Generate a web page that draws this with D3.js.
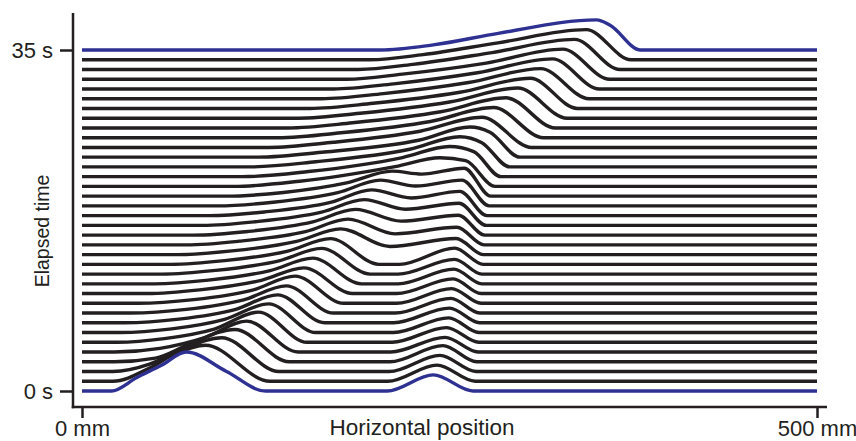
<!DOCTYPE html>
<html>
<head>
<meta charset="utf-8">
<script src="https://cdn.jsdelivr.net/npm/d3@7"></script>
<style>
  body { margin: 0; background: #fff; }
  text { font-family: "Liberation Sans", Arial, Helvetica, sans-serif; fill: #231f20; }
</style>
</head>
<body>
<div id="chart"></div>
<script>
// elapsed time of each trace, s
var times = [0,1,2,3,4,5,6,7,8,9,10,11,12,13,14,15,16,17,18,19,20,21,22,23,24,25,26,27,28,29,30,31,32,33,34,35];

// main wave, positions in mm along the tank, heights in mm of surface rise
var rampStart = [20,21,21,22,22,24,26,29,33,38,44,49,54,60,65,71,76,82,87,92,98,103,109,114,120,127,133,140,147,155,163,171,180,188,196,203];
var rearX1 = [37,46,46,50,53,56,61,66,71,76,80,86,91,97,102,107,113,118,124,130,137,148,154,159,165,171,178,184,191,198,205,212,218,225,232,239];
var rearH1 = [9,9,5,2.5,2.5,2.5,2.5,2.5,2.5,2.5,2.5,2.5,2.5,2.5,2.5,2.5,2.5,2.5,2.5,2.5,2.5,3.5,3.5,3.5,3.5,3.5,3.5,3.5,3.5,3.5,3.5,3.5,3.5,3.5,3.5,3.5];
var rearX2 = [54,63,67,73,84,90,97,104,110,116,122,128,134,140,146,152,157,163,169,174,180,213,218,223,229,230,237,244,250,257,263,269,275,279,283,284];
var rearH2 = [17.5,18.5,14.5,12,10,9,9,9,9,9,9,9,9,9,9,9,9,9,9,9,9,13.5,13,12,11.5,11,11,11,11,11,11,11,11,11.5,11.5,11.5];
var crestX = [71,84,95,104,112,120,127,133,139,145,151,157,163,169,176,181,186,192,197,203,211,243.5,250,257,264,272,280,288.5,296.5,305,312,320,327,335,343,350];
var crestH = [26.5,24.5,23,22,21,20.5,19.5,19,18.5,18.5,17.5,17.5,17.5,17.5,17.5,17.5,17.5,17.5,17.5,17.5,17,19.5,20.5,20.5,20.5,20.5,20.5,20.5,20.5,20.5,20.5,20.5,20.5,20.5,20.5,20.5];
var frontMidX = [98,null,null,null,null,null,null,null,null,null,null,null,null,null,null,null,null,null,null,null,null,261,266.5,272,277.5,null,null,null,null,null,null,null,null,null,null,359];
var frontMidH = [13.5,null,null,null,null,null,null,null,null,null,null,null,null,null,null,null,null,null,null,null,null,17.5,17,16.5,17,null,null,null,null,null,null,null,null,null,null,17];
var frontX = [125,128,134,141,147,153,159,165,171,178,184,190,196,202,209.5,213,217,220,224,227,231,281,285,291,298,306,314,322,330,337,345,352,359,366,373.5,380];
var frontH = [0,0,0,0,0,0,0,0,0,0,0,0,0,0,5.5,7.5,9.5,11,12,13.5,15,0,0,0,0,0,0,0,0,0,0,0,0,0,0,0];

// small wave, until it merges with the main one
var bumpStart = [207.5,208,209,209.5,210,211,212,212,213,214,214,215,215,216,null,null,null,null,null,null,null,null,null,null,null,null,null,null,null,null,null,null,null,null,null,null];
var bumpX = [239,241.5,243.5,245.5,247,248,249.5,250,251,251.5,252.5,253,253.5,253.5,254.5,255,256,256.5,257,258.5,260,null,null,null,null,null,null,null,null,null,null,null,null,null,null,null];
var bumpH = [11,11,11,11,10,10,10,10,10,10,10,10,10,11,11,12,13.5,15,16.5,17.5,19,null,null,null,null,null,null,null,null,null,null,null,null,null,null,null];
var bumpFoot = [266,267.5,268,268.5,269.5,270,270,270.5,270.5,271.5,271.5,272,272,273,273,273.5,274,275,275.5,277,278,null,null,null,null,null,null,null,null,null,null,null,null,null,null,null];

var timeTicks = [0, 35];
var posTicks = [0, 500];

var width = 856, height = 441;
var axisX = 73, axisY = 407;

var x = d3.scaleLinear().domain([0, 500]).range([82, 817]);
var y = d3.scaleLinear().domain([0, 35]).range([391, 50]);
var amp = function(h) { return x(h) - x(0); }; // surface rise drawn at the tank's mm scale

var ink = "#231f20", blue = "#2e3192";

function profile(i) {
  var pts = [[0, 0], [rampStart[i], 0], [rearX1[i], rearH1[i]], [rearX2[i], rearH2[i]], [crestX[i], crestH[i]]];
  if (frontMidX[i] != null) pts.push([frontMidX[i], frontMidH[i]]);
  pts.push([frontX[i], frontH[i]]);
  if (bumpStart[i] != null) pts.push([bumpStart[i], 0]);
  if (bumpX[i] != null) {
    pts.push([bumpX[i], bumpH[i]]);
    pts.push([bumpFoot[i], 0]);
  }
  pts.push([500, 0]);
  return pts.map(function(p) { return {pos: p[0], rise: p[1], t: times[i]}; });
}

var traces = times.map(function(t, i) { return {t: t, pts: profile(i)}; });

var svg = d3.select("#chart").append("svg")
  .attr("width", width)
  .attr("height", height);

svg.append("rect")
  .attr("width", width)
  .attr("height", height)
  .style("fill", "#fff");

var line = d3.line()
  .x(function(d) { return x(d.pos); })
  .y(function(d) { return y(d.t) - amp(d.rise); })
  .curve(d3.curveMonotoneX);

function isEnd(t) { return t == times[0] || t == times[times.length - 1]; }

// black traces first, first and last on top in blue
var ordered = traces.slice().sort(function(a, b) { return isEnd(a.t) - isEnd(b.t); });

svg.append("g").attr("class", "traces")
  .selectAll("path.trace")
  .data(ordered)
  .enter().append("path")
    .attr("class", "trace")
    .attr("d", function(d) { return line(d.pts); })
    .style("fill", "none")
    .style("stroke", function(d) { return isEnd(d.t) ? blue : ink; })
    .style("stroke-width", 3.4)
    .style("stroke-linejoin", "round");

// y axis
var yAxis = svg.append("g")
  .attr("transform", "translate(" + axisX + ",0)")
  .call(d3.axisLeft(y).tickValues(timeTicks).tickSize(13).tickPadding(7)
    .tickFormat(function(d) { return d + " s"; }));
yAxis.select(".domain").remove();
yAxis.selectAll(".tick line").style("stroke", ink).style("stroke-width", 2.5);
yAxis.selectAll(".tick text").style("font-size", "22px").style("fill", ink)
  .attr("font-family", null);
yAxis.append("line")
  .attr("x1", 0).attr("x2", 0)
  .attr("y1", 13).attr("y2", axisY + 1.25)
  .style("stroke", ink).style("stroke-width", 2.5);

// x axis
var xAxis = svg.append("g")
  .attr("transform", "translate(0," + axisY + ")")
  .call(d3.axisBottom(x).tickValues(posTicks).tickSize(11).tickPadding(2)
    .tickFormat(function(d) { return d + " mm"; }));
xAxis.select(".domain").remove();
xAxis.selectAll(".tick line").style("stroke", ink).style("stroke-width", 2.5);
xAxis.selectAll(".tick text").style("font-size", "22px").style("fill", ink)
  .attr("font-family", null);
xAxis.append("line")
  .attr("x1", axisX - 1.25).attr("x2", 827)
  .attr("y1", 0).attr("y2", 0)
  .style("stroke", ink).style("stroke-width", 2.5);

// titles
svg.append("text")
  .attr("transform", "translate(49,231) rotate(-90)")
  .attr("text-anchor", "middle")
  .style("font-size", "19.5px")
  .text("Elapsed time");

svg.append("text")
  .attr("x", 422)
  .attr("y", 435)
  .attr("text-anchor", "middle")
  .style("font-size", "22.5px")
  .text("Horizontal position");
</script>
</body>
</html>
